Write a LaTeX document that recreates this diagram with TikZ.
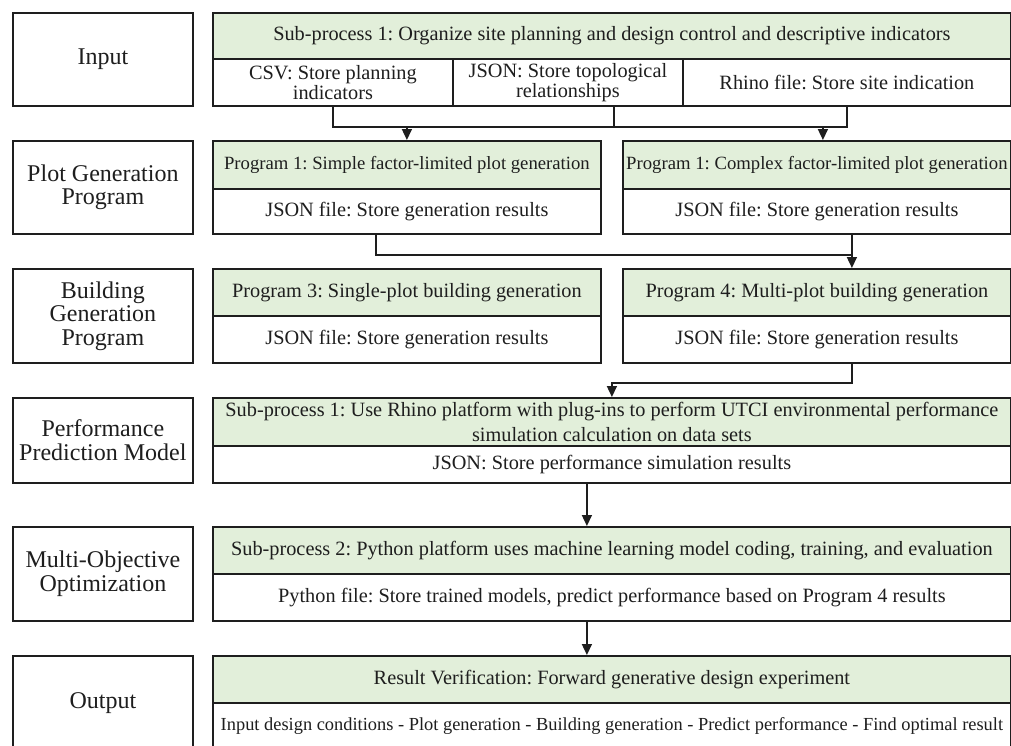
\documentclass[tikz,border=0pt]{standalone}
\usepackage{fontspec}
\setmainfont{Liberation Serif}
\usetikzlibrary{arrows.meta,positioning}
\definecolor{hdrgreen}{RGB}{226,239,218}
\definecolor{ink}{RGB}{30,30,30}
\tikzset{
  box/.style={draw=ink, line width=1.8pt, anchor=north west, inner sep=0pt,
    align=center, text=ink, font=\fontsize{20.3}{25}\selectfont},
  lab/.style={box, fill=white, minimum width=180pt, font=\fontsize{24}{23.5}\selectfont},
  hdr/.style={box, fill=hdrgreen},
  body/.style={box, fill=white},
  narrow/.style={font=\fontsize{18.7}{22}\selectfont},
  link/.style={draw=ink, line width=1.5pt},
  arr/.style={link, -{Triangle[length=11pt,width=10pt]}}
}
\frenchspacing
\begin{document}
\begin{tikzpicture}[x=1pt,y=-1pt]
\useasboundingbox (0,0) rectangle (1011,745);
\clip (0,0) rectangle (1011,745);
\fill[white] (0,0) rectangle (1011,745);

% row labels
\node[lab, minimum height=93pt] (l1) at (12,12) {Input};
\node[lab, minimum height=93pt] (l2) at (12,140) {Plot Generation\\Program};
\node[lab, minimum height=94pt] (l3) at (12,268) {Building\\Generation\\Program};
\node[lab, minimum height=85pt] (l4) at (12,397) {Performance\\Prediction Model};
\node[lab, minimum height=94pt] (l5) at (12,526) {Multi-Objective\\Optimization};
\node[lab, minimum height=94pt] (l6) at (12,655) {Output};

% input
\node[hdr, minimum width=798pt, minimum height=46pt] (inh) at (212,12)
  {Sub-process 1: Organize site planning and design control and descriptive indicators};
\node[body, minimum width=240pt, minimum height=47pt, font=\fontsize{20.3}{20}\selectfont] (ina) at (212,58)
  {CSV: Store planning\\indicators};
\node[body, minimum width=230pt, minimum height=47pt, font=\fontsize{20.3}{20}\selectfont] (inb) at (452,58)
  {JSON: Store topological\\relationships};
\node[body, minimum width=328pt, minimum height=47pt] (inc) at (682,58)
  {Rhino file: Store site indication};

% plot generation
\node[hdr, narrow, minimum width=388pt, minimum height=48pt] (pglh) at (212,140)
  {Program 1: Simple factor-limited plot generation};
\node[body, minimum width=388pt, minimum height=45pt] (pglb) at (212,188)
  {JSON file: Store generation results};
\node[hdr, narrow, minimum width=388pt, minimum height=48pt] (pgrh) at (622,140)
  {Program 1: Complex factor-limited plot generation};
\node[body, minimum width=388pt, minimum height=45pt] (pgrb) at (622,188)
  {JSON file: Store generation results};

% building generation
\node[hdr, minimum width=388pt, minimum height=47pt] (bglh) at (212,268)
  {Program 3: Single-plot building generation};
\node[body, minimum width=388pt, minimum height=47pt] (bglb) at (212,315)
  {JSON file: Store generation results};
\node[hdr, minimum width=388pt, minimum height=47pt] (bgrh) at (622,268)
  {Program 4: Multi-plot building generation};
\node[body, minimum width=388pt, minimum height=47pt] (bgrb) at (622,315)
  {JSON file: Store generation results};

% performance prediction
\node[hdr, minimum width=798pt, minimum height=48pt] (pph) at (212,397)
  {Sub-process 1: Use Rhino platform with plug-ins to perform UTCI environmental performance\\simulation calculation on data sets};
\node[body, minimum width=798pt, minimum height=37pt] (ppb) at (212,445)
  {JSON: Store performance simulation results};

% multi-objective optimization
\node[hdr, minimum width=798pt, minimum height=47pt] (moh) at (212,526)
  {Sub-process 2: Python platform uses machine learning model coding, training, and evaluation};
\node[body, minimum width=798pt, minimum height=47pt] (mob) at (212,573)
  {Python file: Store trained models, predict performance based on Program 4 results};

% output
\node[hdr, minimum width=798pt, minimum height=47pt] (outh) at (212,655)
  {Result Verification: Forward generative design experiment};
\node[body, minimum width=798pt, minimum height=47pt, font=\fontsize{18.4}{20}\selectfont] (outb) at (212,702)
  {Input design conditions - Plot generation - Building generation - Predict performance - Find optimal result};

% input files to plot programs
\coordinate (busA) at ([yshift=-20pt]ina.south);
\draw[link] (ina.south) -- (busA) -| (inc.south);
\draw[link] ([xshift=46pt]inb.south) -- ([xshift=46pt]inb.south |- busA);
\draw[arr] (pglh.north |- busA) -- (pglh.north);
\draw[arr] ([xshift=6pt]pgrh.north |- busA) -- ([xshift=6pt]pgrh.north);

% plot results to building programs
\draw[arr] ([xshift=35pt]pgrb.south) -- ([xshift=35pt]bgrh.north);
\draw[link] ([xshift=-31pt]pglb.south) |- ([xshift=35pt,yshift=-20pt]pgrb.south);

% building results to performance model
\draw[arr] ([xshift=35pt]bgrb.south) -- ++(0,19) -| (pph.north);

% down the chain
\draw[arr] ([xshift=-25pt]ppb.south) -- ([xshift=-25pt]moh.north);
\draw[arr] ([xshift=-25pt]mob.south) -- ([xshift=-25pt]outh.north);
\end{tikzpicture}
\end{document}
